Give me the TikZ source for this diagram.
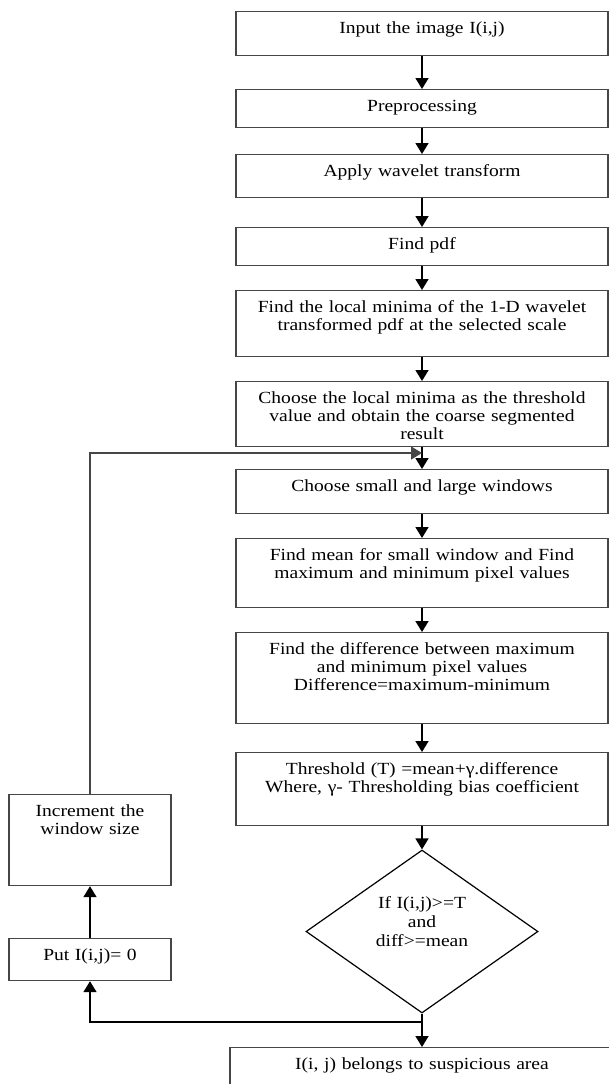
\documentclass[tikz,border=0pt]{standalone}
\usepackage{fontspec}
\setmainfont[FakeStretch=1.15]{Liberation Serif}
\usetikzlibrary{arrows.meta,shapes.geometric}

\tikzset{
    stepbox/.style={draw=edgegray, line width=1.2pt, anchor=north, minimum width=372pt, text width=350pt,
        align=center, inner xsep=4pt, inner ysep=4pt, text height=18pt, font=\fontsize{17}{18}\selectfont},
    sidebox/.style={stepbox, minimum width=162pt, text width=150pt},
    checkbox/.style={draw=black, line width=1.2pt, diamond, shape aspect=1.43, minimum width=232pt, minimum height=163pt,
        inner sep=0pt, text width=110pt, align=center, text height=14pt, text depth=61pt,
        font=\fontsize{17}{19}\selectfont},
    flow/.style={draw=black, line width=1.6pt, -{Triangle[width=13pt,length=11pt]}},
    loopline/.style={flow, draw=edgegray}
}

\begin{document}
\begin{tikzpicture}[x=1pt,y=1pt]
    \definecolor{edgegray}{RGB}{70,70,70}
    \clip (0,0) rectangle (609,-1084);
    % main column
    \node(ID_Input)[stepbox, text depth=18pt] at (422,-11) {Input the image I(i,j)};
    \node(ID_Pre)[stepbox, text depth=12pt] at (422,-89) {Preprocessing};
    \node(ID_Wavelet)[stepbox, text depth=17pt] at (422,-154) {Apply wavelet transform};
    \node(ID_Pdf)[stepbox, text depth=12pt] at (422,-227) {Find pdf};
    \node(ID_Minima)[stepbox, text depth=40pt] at (422,-290) {Find the local minima of the 1-D wavelet\\transformed pdf at the selected scale};
    \node(ID_Coarse)[stepbox, text depth=39pt] at (422,-381) {Choose the local minima as the threshold\\value and obtain the coarse segmented\\result};
    \node(ID_Window)[stepbox, text depth=18pt] at (422,-469) {Choose small and large windows};
    \node(ID_Mean)[stepbox, text depth=43pt] at (422,-538) {Find mean for small window and Find\\maximum and minimum pixel values};
    \node(ID_Diff)[stepbox, text depth=65pt] at (422,-632) {Find the difference between maximum\\and minimum pixel values\\Difference=maximum-minimum};
    \node(ID_Thr)[stepbox, text depth=47pt] at (422,-752) {Threshold (T) =mean+γ.difference\\Where, γ- Thresholding bias coefficient};
    \node(ID_Check)[checkbox] at (422,-931.5) {If I(i,j)>=T\\and\\diff>=mean};
    \node(ID_Result)[stepbox, minimum width=384pt, text depth=19pt] at (422,-1047) {I(i, j) belongs to suspicious area};
    % left side
    \node(ID_Inc)[sidebox, text depth=65pt] at (90,-794) {Increment the\\window size};
    \node(ID_Put)[sidebox, text depth=16pt] at (90,-938) {Put I(i,j)= 0};
    \coordinate (merge) at (422,-453);
    \coordinate (split) at (422,-1022);
    % connectors
    \draw[flow] (ID_Input.south) -- (ID_Pre.north);
    \draw[flow] (ID_Pre.south) -- (ID_Wavelet.north);
    \draw[flow] (ID_Wavelet.south) -- (ID_Pdf.north);
    \draw[flow] (ID_Pdf.south) -- (ID_Minima.north);
    \draw[flow] (ID_Minima.south) -- (ID_Coarse.north);
    \draw[flow] (ID_Coarse.south) -- (ID_Window.north);
    \draw[flow] (ID_Window.south) -- (ID_Mean.north);
    \draw[flow] (ID_Mean.south) -- (ID_Diff.north);
    \draw[flow] (ID_Diff.south) -- (ID_Thr.north);
    \draw[flow] (ID_Thr.south) -- (ID_Check.north);
    \draw[flow] (ID_Check.south) -- (ID_Result.north);
    \draw[flow] (split) -| (ID_Put.south);
    \draw[flow] (ID_Put.north) -- (ID_Inc.south);
    \draw[loopline] (ID_Inc.north) |- (merge);
\end{tikzpicture}
\end{document}
